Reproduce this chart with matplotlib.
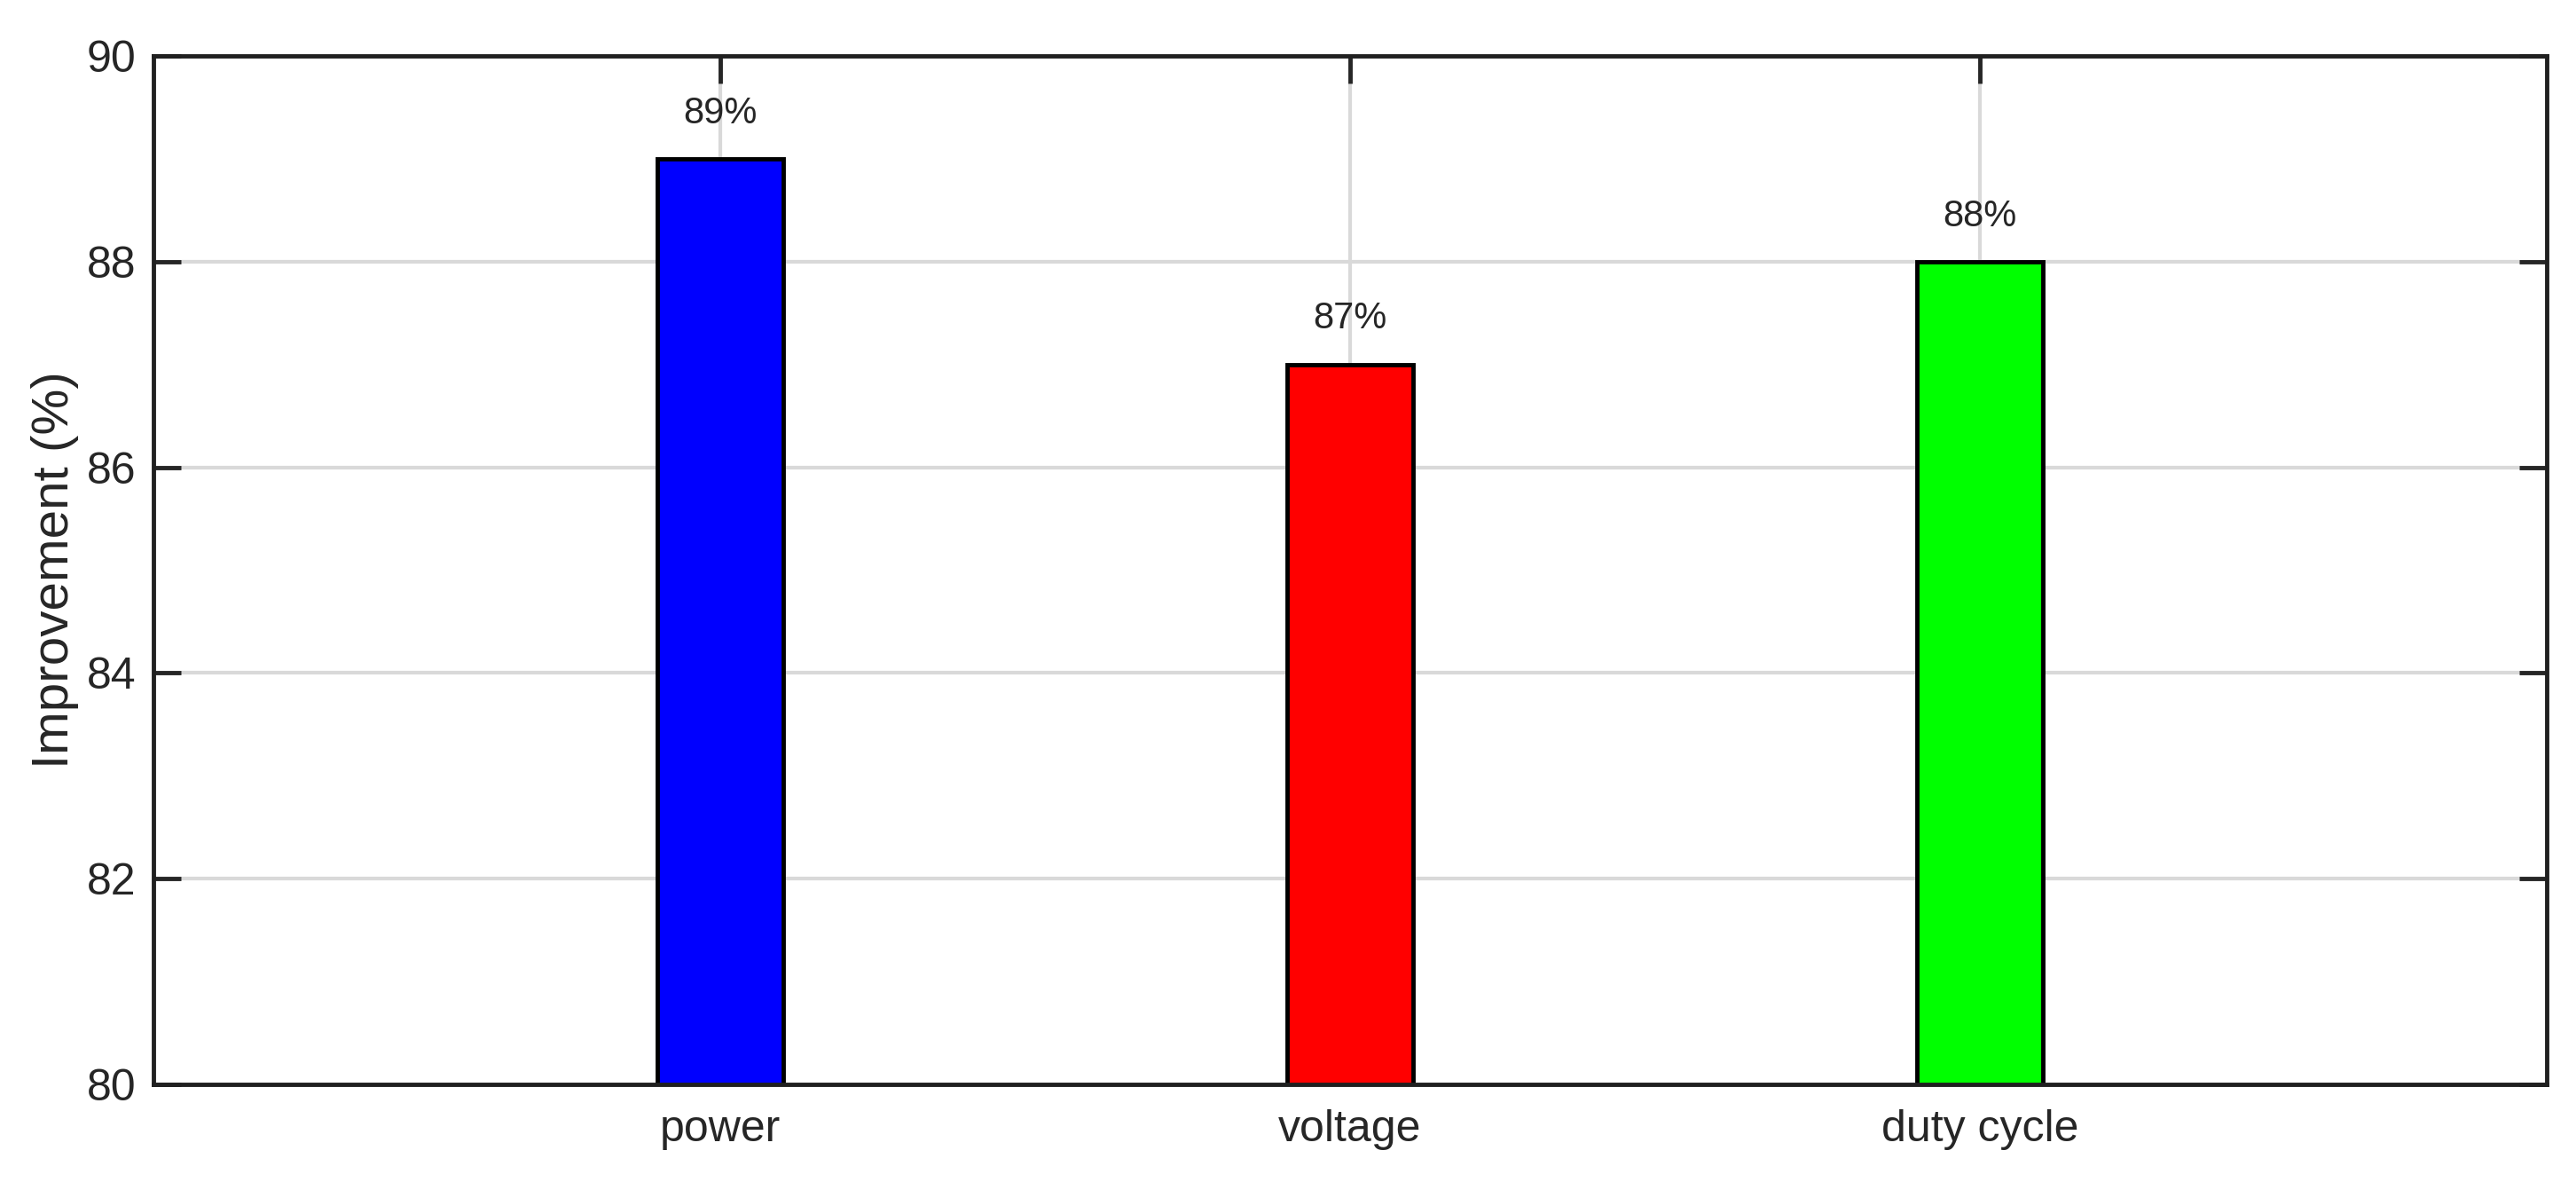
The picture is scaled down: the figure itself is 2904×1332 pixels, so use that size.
import matplotlib.pyplot as plt
import numpy as np

categories = ['power', 'voltage', 'duty cycle']
improvement = [89, 87, 88]
bar_colors = ['#0000ff', '#ff0000', '#00ff00']
yticks = [80, 82, 84, 86, 88, 90]

plt.rcParams['font.family'] = ['Liberation Sans', 'DejaVu Sans']

fig = plt.figure(figsize=(29.04, 13.32), dpi=100)
ax = fig.add_axes([173 / 2904, 1 - 1222 / 1332, (2871 - 173) / 2904, (1222 - 63) / 1332])

x = np.arange(1, len(categories) + 1)
ax.bar(x, improvement, width=0.2, color=bar_colors, edgecolor='black',
       linewidth=3.5, zorder=3)

for xi, v in zip(x, improvement):
    ax.text(xi, v + 0.27, '%d%%' % v, ha='center', va='bottom',
            fontsize=30, color='#262626', zorder=4)

ax.set_xlim(0.1, 3.9)
ax.set_ylim(80, 90)
ax.set_xticks(x)
ax.set_xticklabels(categories)
ax.set_yticks(yticks)
ax.grid(True, color='#d9d9d9', linewidth=3, zorder=0)

ax.tick_params(axis='both', direction='in', length=22, width=3.5,
               color='#262626', top=True, right=True, labelcolor='#262626')
ax.tick_params(axis='y', labelsize=36, pad=14)
ax.tick_params(axis='x', labelsize=36, pad=20)

for s in ax.spines.values():
    s.set_linewidth(3.5)
    s.set_color('#202020')
    s.set_zorder(5)

ax.set_ylabel('Improvement (%)', fontsize=42, color='#262626', labelpad=6)

fig.savefig('out.png', dpi=100)
